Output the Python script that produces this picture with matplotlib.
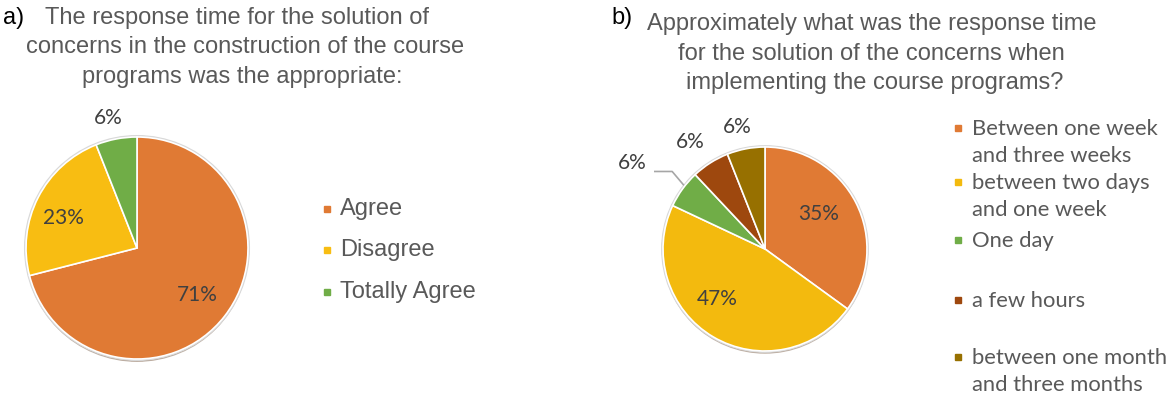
import matplotlib
matplotlib.use("Agg")
import matplotlib.pyplot as plt
import numpy as np
from matplotlib.patches import Circle, Rectangle

# ---------------- data ----------------
a_labels = ["Agree", "Disagree", "Totally Agree"]
a_values = [71, 23, 6]
a_colors = ["#E07A34", "#F8BD12", "#70AD47"]

b_labels = ["Between one week\nand three weeks", "between two days\nand one week",
            "One day", "a few hours", "between one month\nand three months"]
b_values = [35, 47, 6, 6, 6]
b_colors = ["#E07A34", "#F3BA0E", "#70AD47", "#9E480E", "#977000"]

title_a = ["The response time for the solution of",
           "concerns in the construction of the course",
           "programs was the appropriate:"]
title_b = ["Approximately what was the response time",
           "for the solution of the concerns when",
           "implementing the course programs?"]

W, H = 1175, 398
fig = plt.figure(figsize=(W / 100, H / 100), dpi=100)
fig.patch.set_facecolor("white")
PAD = 1.05

def px_axes(cx, cy, r):
    R = r * PAD
    return fig.add_axes([(cx - R) / W, (H - cy - R) / H, 2 * R / W, 2 * R / H])

def fx(x):
    return x / W

def fy(y):
    return 1 - y / H

TITLE_C = "#595959"
LABEL_C = "#404040"
SANS = ["Liberation Sans", "DejaVu Sans"]
CAL = ["Lato", "DejaVu Sans"]

def draw_pie(ax, values, colors):
    ax.add_patch(Circle((0, -0.02), 1.0, color="#7a5a40", alpha=0.45, zorder=0))
    ax.add_patch(Circle((0, 0), 1.012, color="#d9d9d9", zorder=0))
    wedges, _ = ax.pie(values, colors=colors, startangle=90, counterclock=False,
                       radius=1.0, wedgeprops=dict(edgecolor="white", linewidth=1.2))
    ax.set_xlim(-PAD, PAD)
    ax.set_ylim(-PAD, PAD)
    ax.set_aspect("equal")
    ax.axis("off")
    return wedges

# ---------------- chart a ----------------
axa = px_axes(137, 248, 111)
wa = draw_pie(axa, a_values, a_colors)
a_label_pos = [(0.54, -0.42), (-0.66, 0.27), (-0.26, 1.17)]
for v, (x, y) in zip(a_values, a_label_pos):
    axa.text(x, y, f"{v}%", ha="center", va="center", fontsize=15,
             color=LABEL_C, family=CAL, clip_on=False)

fig.text(fx(3), fy(18), "a)", fontsize=17, color="black", family=SANS,
         ha="left", va="center")
for line, cx, cy in zip(title_a, [237, 245, 242], [18, 47, 77]):
    fig.text(fx(cx), fy(cy), line, fontsize=17, color=TITLE_C, family=SANS,
             ha="center", va="center")

for lab, col, y in zip(a_labels, a_colors, [209, 250, 292]):
    fig.add_artist(Rectangle((fx(324), fy(y + 3)), 6 / W, 6 / H, color=col,
                             transform=fig.transFigure))
    fig.text(fx(340), fy(y), lab, fontsize=17, color=TITLE_C, family=SANS,
             ha="left", va="center")

# ---------------- chart b ----------------
axb = px_axes(765, 249, 102)
wb = draw_pie(axb, b_values, b_colors)
b_label_pos = [(0.53, 0.34), (-0.47, -0.49), (-1.30, 0.84), (-0.73, 1.05), (-0.27, 1.20)]
for v, (x, y) in zip(b_values, b_label_pos):
    axb.text(x, y, f"{v}%", ha="center", va="center", fontsize=15,
             color=LABEL_C, family=CAL, clip_on=False)
axb.plot([-1.08, -0.91, -0.80], [0.76, 0.76, 0.63], color="#a6a6a6", lw=1.2,
         clip_on=False)

fig.text(fx(611), fy(18), "b)", fontsize=17, color="black", family=SANS,
         ha="left", va="center")
for line, cx, cy in zip(title_b, [872, 871, 875], [24, 54, 83]):
    fig.text(fx(cx), fy(cy), line, fontsize=17, color=TITLE_C, family=SANS,
             ha="center", va="center")

for lab, col, y in zip(b_labels, b_colors, [128, 182, 240, 300, 357]):
    fig.add_artist(Rectangle((fx(955), fy(y + 3)), 6 / W, 6 / H, color=col,
                             transform=fig.transFigure))
    fig.text(fx(972), fy(y - 9), lab, fontsize=15.8, color=TITLE_C, family=CAL,
             ha="left", va="top", linespacing=1.42)

fig.savefig("out.png", dpi=100, facecolor="white")
